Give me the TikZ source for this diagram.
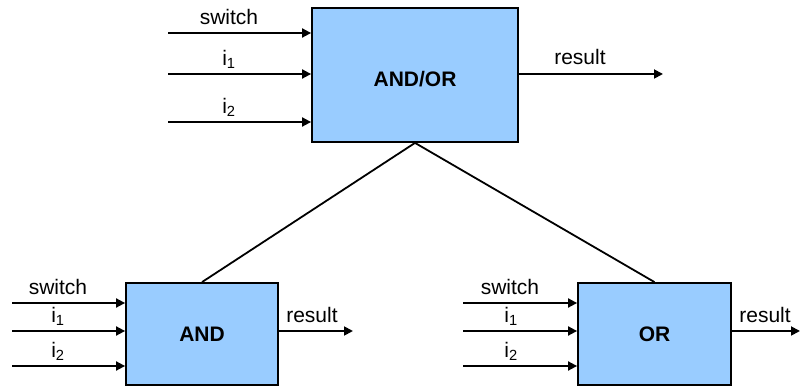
\documentclass[tikz,border=0pt]{standalone}
\usepackage{fontspec}
\setmainfont{Liberation Sans}
\usetikzlibrary{arrows.meta,calc}
\definecolor{boxblue}{HTML}{99CCFF}
\begin{document}
\begin{tikzpicture}[x=1pt,y=-1pt,
  blk/.style={draw=black,line width=1.8pt,fill=boxblue,inner sep=0pt,font=\fontsize{21}{25}\selectfont\bfseries},
  arr/.style={line width=1.8pt,-{Triangle[length=9pt,width=9pt]}},
  conn/.style={line width=1.8pt},
  lbl/.style={font=\fontsize{21}{25}\selectfont,anchor=base,inner sep=0pt}]
\useasboundingbox (0,0) rectangle (801,387);
% blocks
\node[blk,minimum width=206pt,minimum height=134pt,text height=23pt,text depth=0pt] (top) at (415,75) {AND/OR};
\node[blk,minimum width=152pt,minimum height=102pt] (and) at (202,334) {AND};
\node[blk,minimum width=153pt,minimum height=102pt] (or) at (654.5,334) {OR};
% top inputs
\coordinate (ts) at (168,33);
\coordinate (ti1) at (168,74);
\coordinate (ti2) at (168,122);
\draw[arr] (ts) -- (ts -| top.west);
\draw[arr] (ti1) -- (ti1 -| top.west);
\draw[arr] (ti2) -- (ti2 -| top.west);
\node[lbl] (tsl) at (229,24.5) {switch};
\node[lbl] (ti1l) at (229,65.5) {i\textsubscript{1}};
\node[lbl] (ti2l) at (229,113.5) {i\textsubscript{2}};
\coordinate (tr) at (663,74);
\draw[arr] (tr -| top.east) -- (tr);
\node[lbl] (trl) at (580,65) {result};
% AND inputs
\coordinate (as) at (12,303);
\coordinate (ai1) at (12,331);
\coordinate (ai2) at (12,366);
\draw[arr] (as) -- (as -| and.west);
\draw[arr] (ai1) -- (ai1 -| and.west);
\draw[arr] (ai2) -- (ai2 -| and.west);
\node[lbl] (asl) at (58,294.5) {switch};
\node[lbl] (ai1l) at (58,322.5) {i\textsubscript{1}};
\node[lbl] (ai2l) at (58,357.5) {i\textsubscript{2}};
\coordinate (ar) at (353,331);
\draw[arr] (ar -| and.east) -- (ar);
\node[lbl] (arl) at (312,322.5) {result};
% OR inputs
\coordinate (os) at (463,303);
\coordinate (oi1) at (463,331);
\coordinate (oi2) at (463,366);
\draw[arr] (os) -- (os -| or.west);
\draw[arr] (oi1) -- (oi1 -| or.west);
\draw[arr] (oi2) -- (oi2 -| or.west);
\node[lbl] (osl) at (510,294.5) {switch};
\node[lbl] (oi1l) at (511,322.5) {i\textsubscript{1}};
\node[lbl] (oi2l) at (511,357.5) {i\textsubscript{2}};
\coordinate (orr) at (800,331);
\draw[arr] (orr -| or.east) -- (orr);
\node[lbl] (orl) at (765,322.5) {result};
% tree connectors
\draw[conn] (top.south) -- (and.north);
\draw[conn] (top.south) -- (or.north);
\end{tikzpicture}
\end{document}
